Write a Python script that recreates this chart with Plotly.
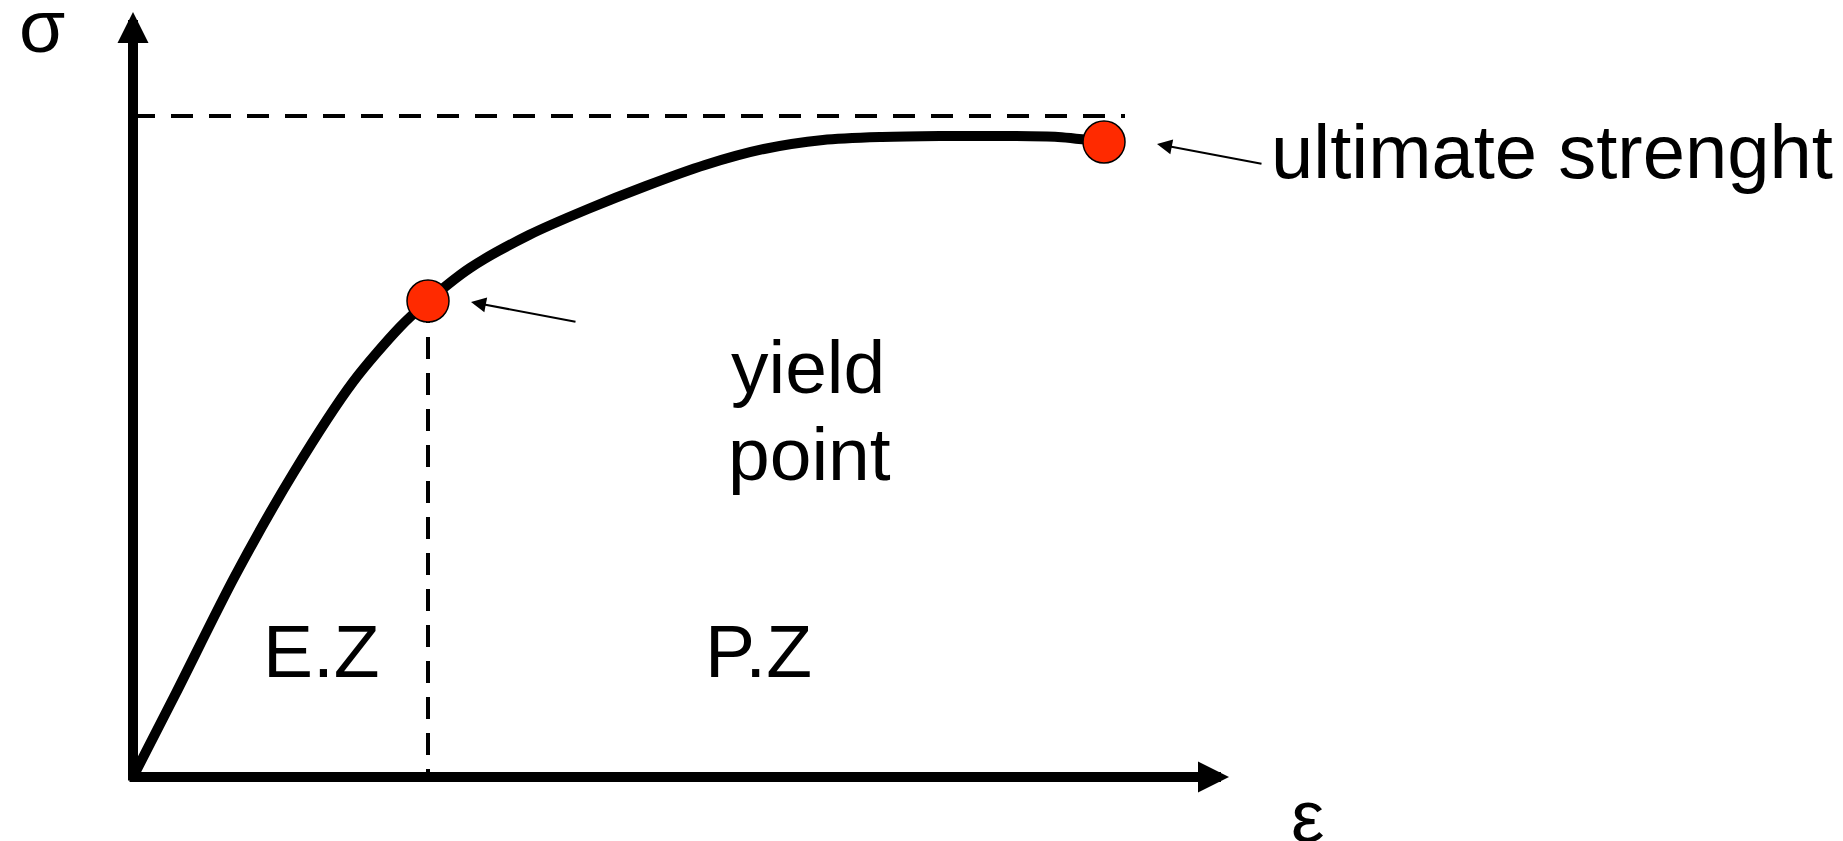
import plotly.graph_objects as go

# schematic stress-strain curve (arbitrary units)
strain = [0.0, 0.43, 1.02, 1.61, 2.20, 2.67, 2.95, 3.37, 3.96, 4.55, 5.13,
          5.72, 6.31, 6.90, 7.49, 8.07, 8.66, 9.25, 9.71]
stress = [0.0, 0.84, 2.01, 3.05, 3.95, 4.50, 4.76, 5.09, 5.42, 5.68, 5.91,
          6.12, 6.28, 6.37, 6.40, 6.41, 6.41, 6.40, 6.35]

# marked points: yield, ultimate
point_strain = [2.95, 9.71]
point_stress = [4.76, 6.35]

# dashed reference for the ultimate level
ultimate_level = 6.61
ultimate_line_end = 9.92

# axis extents
axis_max_strain = 10.96
axis_max_stress = 7.65

FONT = "Liberation Sans, Arial, sans-serif"
fig = go.Figure()

# dashed guides
fig.add_trace(go.Scatter(
    x=[0, ultimate_line_end], y=[ultimate_level, ultimate_level],
    mode="lines", line=dict(color="black", width=4, dash="22px,16px"),
    hoverinfo="skip"))
fig.add_trace(go.Scatter(
    x=[point_strain[0], point_strain[0]], y=[point_stress[0], 0],
    mode="lines", line=dict(color="black", width=4, dash="22px,14px"),
    hoverinfo="skip"))

# the curve
fig.add_trace(go.Scatter(
    x=strain, y=stress, mode="lines",
    line=dict(color="black", width=10, shape="spline", smoothing=0.8)))

# yield / ultimate markers
fig.add_trace(go.Scatter(
    x=point_strain, y=point_stress, mode="markers",
    marker=dict(size=42, color="#ff2a00", line=dict(color="black", width=1.5))))

annotations = []

# axes with arrow heads
annotations.append(dict(x=axis_max_strain, y=0, ax=-0.05, ay=0,
                        xref="x", yref="y", axref="x", ayref="y", text="",
                        showarrow=True, arrowhead=2, arrowsize=0.62,
                        arrowwidth=10, arrowcolor="black", standoff=0))
annotations.append(dict(x=0, y=axis_max_stress, ax=0, ay=-0.05,
                        xref="x", yref="y", axref="x", ayref="y", text="",
                        showarrow=True, arrowhead=2, arrowsize=0.62,
                        arrowwidth=10, arrowcolor="black", standoff=0))

# pointer arrows
annotations.append(dict(x=10.24, y=6.33, ax=11.30, ay=6.13,
                        xref="x", yref="y", axref="x", ayref="y", text="",
                        showarrow=True, arrowhead=2, arrowsize=1.5,
                        arrowwidth=2, arrowcolor="black", standoff=0))
annotations.append(dict(x=3.38, y=4.75, ax=4.44, ay=4.55,
                        xref="x", yref="y", axref="x", ayref="y", text="",
                        showarrow=True, arrowhead=2, arrowsize=1.5,
                        arrowwidth=2, arrowcolor="black", standoff=0))

# labels
labels = [
    ("σ", -0.91, 7.51, "center", 75),
    ("ε", 11.74, -0.39, "center", 75),
    ("ultimate strenght", 11.36, 6.26, "left", 76),
    ("yield", 6.75, 4.10, "center", 75),
    ("point", 6.76, 3.23, "center", 75),
    ("E.Z", 1.88, 1.26, "center", 75),
    ("P.Z", 6.25, 1.26, "center", 75),
]
for txt, x, y, anchor, size in labels:
    annotations.append(dict(x=x, y=y, xref="x", yref="y", text=txt,
                            showarrow=False, xanchor=anchor, yanchor="middle",
                            font=dict(family=FONT, size=size, color="black")))

fig.update_layout(
    width=1843, height=841,
    margin=dict(l=0, r=0, t=0, b=0),
    paper_bgcolor="white", plot_bgcolor="white",
    showlegend=False,
    xaxis=dict(visible=False, range=[-1.25, 17.18]),
    yaxis=dict(visible=False, range=[-0.72, 7.69]),
    annotations=annotations,
)

fig.write_html("out.html")
